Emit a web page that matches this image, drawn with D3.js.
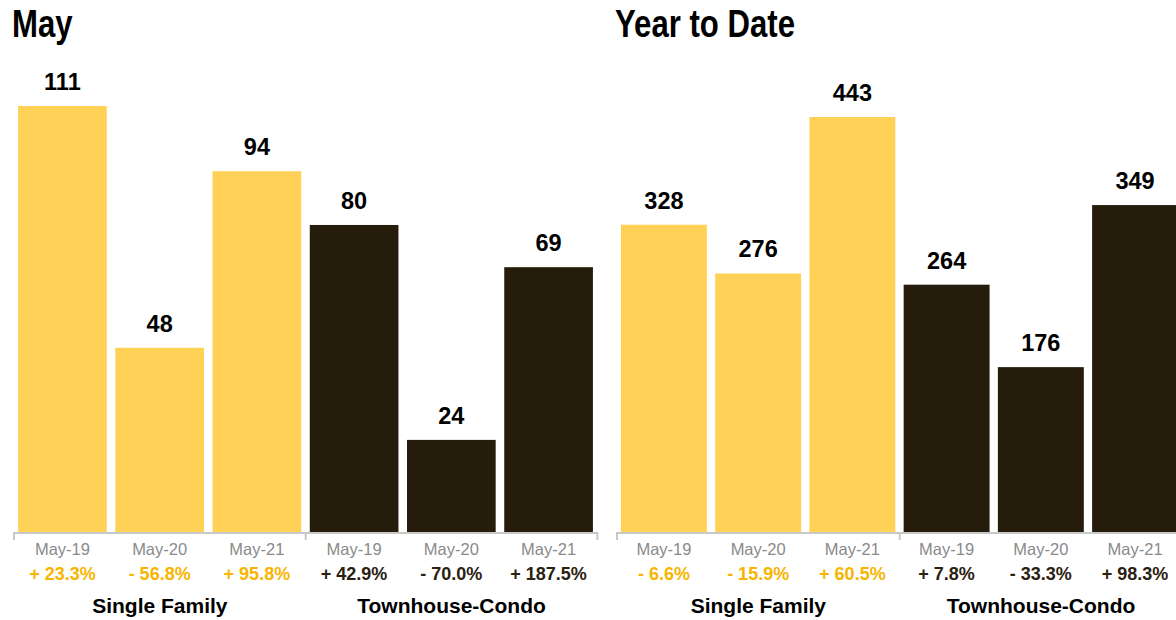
<!DOCTYPE html>
<html>
<head>
<meta charset="utf-8">
<script src="https://cdn.jsdelivr.net/npm/d3@7"></script>
<style>
	body { margin: 0; background: #fff; }
	svg { display: block; font-family: "Liberation Sans", Arial, sans-serif; }
</style>
</head>
<body>
<div id="chart"></div>
<script>
var groups = ['Single Family', 'Townhouse-Condo'];
var periods = ['May-19', 'May-20', 'May-21'];

var monthValues = [111, 48, 94, 80, 24, 69];
var monthChange = ['+ 23.3%', '- 56.8%', '+ 95.8%', '+ 42.9%', '- 70.0%', '+ 187.5%'];

var ytdValues = [328, 276, 443, 264, 176, 349];
var ytdChange = ['- 6.6%', '- 15.9%', '+ 60.5%', '+ 7.8%', '- 33.3%', '+ 98.3%'];

var barColor = ['#ffd257', '#261c0b'];
var pctColor = ['#f7b500', '#2a2110'];

var width = 1176, height = 620, baseY = 532;

var svg = d3.select('#chart')
	.append('svg')
	.attr('width', width)
	.attr('height', height);

function drawPanel(title, values, changes, x0, x1, yMax, yTop) {
	var g = svg.append('g');

	// condensed look for the heading
	g.append('text')
		.attr('transform', 'translate(' + (x0 - 2) + ',37) scale(0.82,1)')
		.attr('font-weight', 'bold')
		.attr('font-size', 38)
		.attr('fill', '#000')
		.text(title);

	// one band per bar, group then period
	var keys = [];
	groups.forEach(function (gr, gi) {
		periods.forEach(function (p) { keys.push(gi + '|' + p); });
	});

	var x = d3.scaleBand()
		.domain(keys)
		.range([x0, x1])
		.paddingInner(0.088)
		.paddingOuter(0.042);

	var y = d3.scaleLinear()
		.domain([0, yMax])
		.range([baseY, yTop]);

	var data = values.map(function (v, i) {
		return { key: keys[i], value: v, change: changes[i], group: Math.floor(i / 3), period: periods[i % 3] };
	});

	g.selectAll('rect.bar')
		.data(data)
		.enter()
		.append('rect')
		.attr('class', 'bar')
		.attr('x', function (d) { return x(d.key); })
		.attr('y', function (d) { return y(d.value); })
		.attr('width', x.bandwidth())
		.attr('height', function (d) { return baseY - y(d.value); })
		.attr('fill', function (d) { return barColor[d.group]; });

	g.selectAll('text.val')
		.data(data)
		.enter()
		.append('text')
		.attr('class', 'val')
		.attr('x', function (d) { return x(d.key) + x.bandwidth() / 2; })
		.attr('y', function (d) { return y(d.value) - 16; })
		.attr('text-anchor', 'middle')
		.attr('font-weight', 'bold')
		.attr('font-size', 23.5)
		.attr('fill', '#000')
		.text(function (d) { return d.value; });

	// axis line with group dividers
	var step = x.step();
	var edges = [x0, x0 + 3 * step, x0 + 6 * step];
	g.append('line')
		.attr('x1', x0).attr('x2', Math.min(edges[2], width + 10))
		.attr('y1', baseY + 1).attr('y2', baseY + 1)
		.attr('stroke', '#c8c8c8')
		.attr('stroke-width', 2);
	g.selectAll('line.tick')
		.data(edges)
		.enter()
		.append('line')
		.attr('class', 'tick')
		.attr('x1', function (d) { return d; })
		.attr('x2', function (d) { return d; })
		.attr('y1', baseY)
		.attr('y2', baseY + 8)
		.attr('stroke', '#c8c8c8')
		.attr('stroke-width', 2);

	g.selectAll('text.period')
		.data(data)
		.enter()
		.append('text')
		.attr('class', 'period')
		.attr('x', function (d) { return x(d.key) + x.bandwidth() / 2; })
		.attr('y', 555)
		.attr('text-anchor', 'middle')
		.attr('font-size', 16.5)
		.attr('fill', '#8a8a8a')
		.text(function (d) { return d.period; });

	g.selectAll('text.pct')
		.data(data)
		.enter()
		.append('text')
		.attr('class', 'pct')
		.attr('x', function (d) { return x(d.key) + x.bandwidth() / 2; })
		.attr('y', 580)
		.attr('text-anchor', 'middle')
		.attr('font-weight', 'bold')
		.attr('font-size', 18)
		.attr('fill', function (d) { return pctColor[d.group]; })
		.text(function (d) { return d.change; });

	g.selectAll('text.group')
		.data(groups)
		.enter()
		.append('text')
		.attr('class', 'group')
		.attr('x', function (d, i) { return (edges[i] + edges[i + 1]) / 2; })
		.attr('y', 613)
		.attr('text-anchor', 'middle')
		.attr('font-weight', 'bold')
		.attr('font-size', 21)
		.attr('fill', '#000')
		.text(function (d) { return d; });
}

drawPanel('May', monthValues, monthChange, 14, 597, 111, 106);
drawPanel('Year to Date', ytdValues, ytdChange, 617, 1182, 443, 117);
</script>
</body>
</html>
